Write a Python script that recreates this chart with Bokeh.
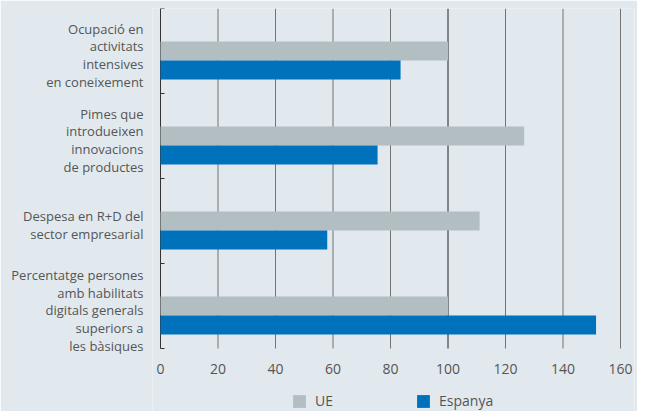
import numpy as np
from bokeh.plotting import figure
from bokeh.models import (FixedTicker, Range1d, Legend, LegendItem, ColumnDataSource)
from bokeh.core.properties import value
from bokeh.embed import file_html
from bokeh.resources import INLINE

categories = [
    "Ocupació en\nactivitats\nintensives\nen coneixement",
    "Pimes que\nintrodueixen\ninnovacions\nde productes",
    "Despesa en R+D del\nsector empresarial",
    "Percentatge persones\namb habilitats\ndigitals generals\nsuperiors a\nles bàsiques",
]
ue = [100, 126.5, 111, 100]
espanya = [83.5, 75.5, 58, 151.5]
x_ticks = [0, 20, 40, 60, 80, 100, 120, 140, 160]
series_names = ["UE", "Espanya"]

BG = "#e1e9ef"
GRAY = "#b3bec3"
BLUE = "#0071bb"
TEXT = "#555555"

n = len(categories)
idx = np.arange(n)
bar_h = 0.2235
src_ue = ColumnDataSource(dict(y=idx + 0.5, right=ue))
src_es = ColumnDataSource(dict(y=idx + 0.5 + bar_h, right=espanya))

PX = 2.875  # pixels per x unit
x_start = -8 / PX
x_end = x_start + 482 / PX

p = figure(width=637, height=411, output_backend="svg", toolbar_location=None,
           x_range=Range1d(x_start, x_end), y_range=Range1d(n * 403 / 340, 0),
           min_border_left=152, min_border_right=3, min_border_top=8, min_border_bottom=0)
p.background_fill_color = BG
p.border_fill_color = BG
p.outline_line_color = None
p.xaxis.visible = False
p.grid.visible = False

# vertical grid lines (x = 0 acts as the axis line), only over the category area
grid_src = ColumnDataSource(dict(
    x=x_ticks,
    color=["#333333" if t == 0 else "#222222" if t == 100 else "#737373" for t in x_ticks]))
p.segment(x0="x", y0=0, x1="x", y1=n, source=grid_src, line_color="color", line_width=1)

# category separator ticks on the axis
sep = list(range(n + 1))
p.segment(x0=[0] * len(sep), y0=sep, x1=[4 / PX] * len(sep), y1=sep,
          line_color="#333333", line_width=1)

r_ue = p.hbar(y="y", right="right", left=0, height=bar_h, source=src_ue,
              fill_color=GRAY, line_color=None)
r_es = p.hbar(y="y", right="right", left=0, height=bar_h, source=src_es,
              fill_color=BLUE, line_color=None)

# x tick labels
lab_src = ColumnDataSource(dict(x=x_ticks, y=[n + 20 / 85] * len(x_ticks),
                                text=[str(t) for t in x_ticks]))
p.text(x="x", y="y", text="text", source=lab_src, text_align="center",
       text_baseline="middle", text_font=value("Open Sans"),
       text_font_size="14px", text_color=TEXT)

# y axis: category labels only
p.yaxis.ticker = FixedTicker(ticks=list(idx + 0.55))
p.yaxis.major_label_overrides = {float(i + 0.55): c for i, c in zip(idx, categories)}
p.yaxis.axis_line_color = None
p.yaxis.major_tick_line_color = None
p.yaxis.minor_tick_line_color = None
p.yaxis.major_label_text_font = "Open Sans"
p.yaxis.major_label_text_font_size = "13px"
p.yaxis.major_label_text_line_height = 0.98
p.yaxis.major_label_text_color = TEXT
p.yaxis.major_label_text_align = "right"
p.yaxis.major_label_standoff = 3

legend = Legend(items=[LegendItem(label=series_names[0], renderers=[r_ue]),
                       LegendItem(label=series_names[1], renderers=[r_es])],
                location=(139, 1), orientation="horizontal",
                glyph_width=16, glyph_height=16, label_width=90, spacing=10,
                padding=0, margin=0, label_standoff=8,
                background_fill_alpha=0, border_line_color=None,
                label_text_font="Open Sans", label_text_font_size="14px",
                label_text_color=TEXT)
p.add_layout(legend, "center")

open("out.html", "w").write(file_html(p, INLINE))
